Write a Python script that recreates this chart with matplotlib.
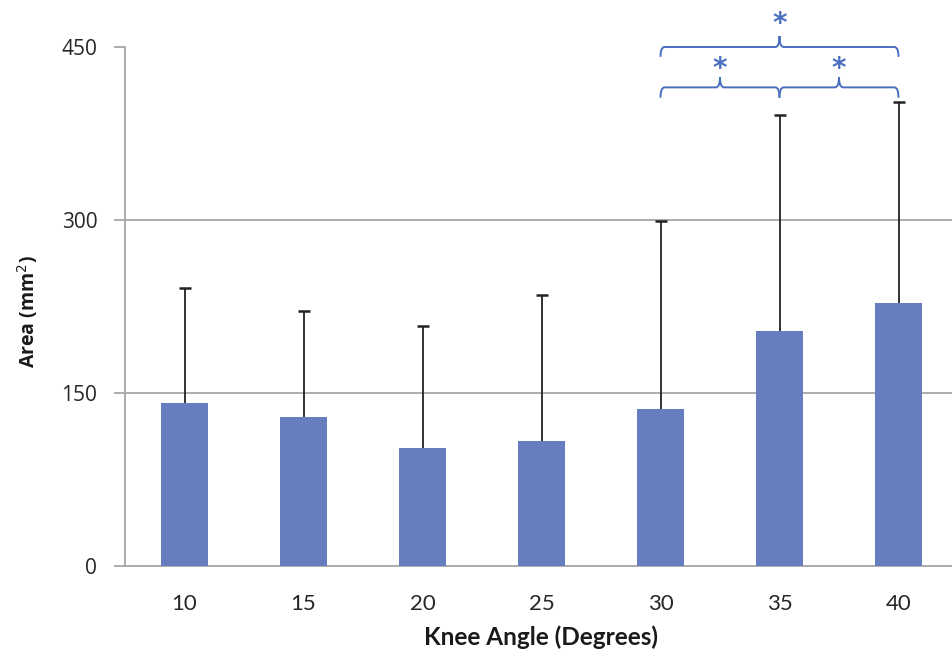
import numpy as np
import matplotlib
matplotlib.use("Agg")
import matplotlib.pyplot as plt
from matplotlib.path import Path
from matplotlib.patches import PathPatch

# data
angles = ["10", "15", "20", "25", "30", "35", "40"]
area_mean = [141, 129, 102, 108, 136, 204, 228]
area_sd = [100, 92, 106, 127, 163, 187, 174]
y_ticks = [0, 150, 300, 450]

# significance brackets: (left index, right index, height)
brackets = [(4, 6, 450), (4, 5, 415), (5, 6, 415)]

bar_color = "#667ec0"
sig_color = "#4a6fc0"
grid_color = "#a6a6a6"


def brace(ax, x0, x1, y, h, rx=0.035, tip=None):
    """curly brace from x0 to x1 at height y, tip pointing up at the middle"""
    xm = (x0 + x1) / 2
    tip = h if tip is None else tip
    verts = [
        (x0, y - h), (x0, y), (x0 + rx, y),
        (xm - rx, y), (xm, y), (xm, y + tip),
        (xm, y), (xm + rx, y),
        (x1 - rx, y), (x1, y), (x1, y - h),
    ]
    codes = [
        Path.MOVETO, Path.CURVE3, Path.CURVE3,
        Path.LINETO, Path.CURVE3, Path.CURVE3,
        Path.CURVE3, Path.CURVE3,
        Path.LINETO, Path.CURVE3, Path.CURVE3,
    ]
    patch = PathPatch(Path(verts, codes), facecolor="none", edgecolor=sig_color,
                      lw=1.4, clip_on=False)
    ax.add_patch(patch)


fig = plt.figure(figsize=(9.52, 6.56), dpi=100)
W, H = 952, 656
ax = fig.add_axes([125 / W, (H - 566) / H, 833 / W, (566 - 47) / H])

x = np.arange(len(angles))
ax.bar(x, area_mean, width=0.395, color=bar_color, zorder=3)
eb = ax.errorbar(x, area_mean, yerr=[np.zeros(len(area_sd)), area_sd], fmt="none",
                 ecolor="#222222", elinewidth=1.3, capsize=4, capthick=1.8, zorder=4)
# only the upper cap (plus direction)
eb[1][0].set_visible(False)

ax.set_xlim(-0.5, len(angles) - 0.5)
ax.set_ylim(0, 450)
ax.set_yticks(y_ticks)
ax.set_yticklabels([str(t) for t in y_ticks], fontfamily="Open Sans", fontsize=15,
                   color="#262626")
ax.set_xticks(x)
ax.set_xticklabels(angles, fontfamily="Lato", fontsize=16, color="#262626")

for t in y_ticks[1:3]:
    ax.axhline(t, color=grid_color, lw=1.3, zorder=1)

for s in ["top", "right"]:
    ax.spines[s].set_visible(False)
for s in ["left", "bottom"]:
    ax.spines[s].set_color(grid_color)
    ax.spines[s].set_linewidth(1.3)
ax.tick_params(axis="y", length=8, width=1.3, color=grid_color, pad=12)
ax.tick_params(axis="x", length=0, pad=20)

for x0, x1, yb in brackets:
    if x1 - x0 > 1:
        brace(ax, x0, x1, yb, 8.5, tip=9.5)
        ax.text((x0 + x1) / 2, yb + 20, "*", color=sig_color, fontsize=20,
                ha="center", va="center", fontfamily="DejaVu Sans", fontweight="bold")
    else:
        brace(ax, x0, x1, yb, 9, tip=9)
        ax.text((x0 + x1) / 2, yb + 16, "*", color=sig_color, fontsize=20,
                ha="center", va="center", fontfamily="DejaVu Sans", fontweight="bold")

fig.text(541 / W, 1 - 637 / H, "Knee Angle (Degrees)", fontfamily="Lato",
         fontweight="bold", fontsize=17.5, ha="center", va="center", color="#1a1a1a")
fig.text(28 / W, 1 - 312 / H, "Area (mm$^2$)", fontfamily="Open Sans",
         fontweight="bold", fontsize=14, ha="center", va="center", rotation=90,
         color="#1a1a1a")

fig.savefig("out.png", dpi=100)
